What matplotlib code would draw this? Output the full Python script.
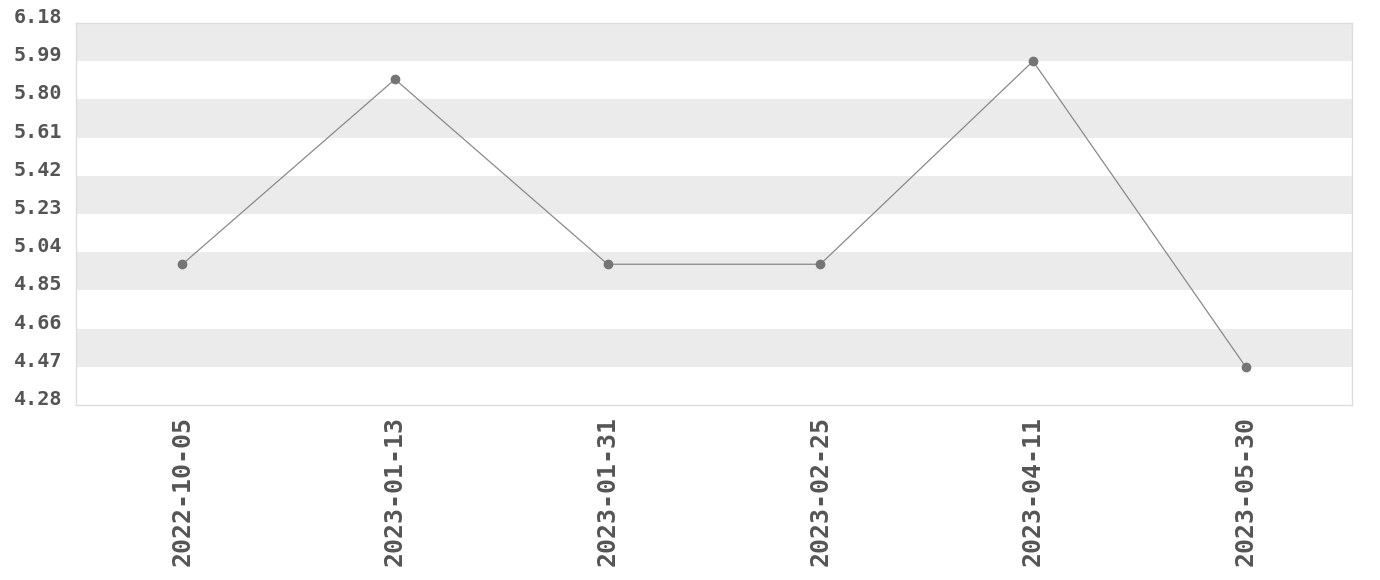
import numpy as np
import matplotlib.pyplot as plt

dates = ['2022-10-05', '2023-01-13', '2023-01-31', '2023-02-25', '2023-04-11', '2023-05-30']
values = [4.98, 5.90, 4.98, 4.98, 5.99, 4.47]
y_ticks = [4.28, 4.47, 4.66, 4.85, 5.04, 5.23, 5.42, 5.61, 5.80, 5.99, 6.18]

plt.rcParams['font.family'] = ['DejaVu Sans Mono']

fig = plt.figure(figsize=(13.8, 5.8), dpi=100)
ax = fig.add_axes([76 / 1380, 1 - 405 / 580, 1276 / 1380, 382 / 580])

# 交替的灰色横条
for i in range(len(y_ticks) - 1):
    if (len(y_ticks) - 2 - i) % 2 == 0:
        ax.axhspan(y_ticks[i], y_ticks[i + 1], color='#ebebeb', lw=0, zorder=0)

x = np.arange(len(dates))
ax.plot(x, values, color='#8a8a8a', lw=0.9, marker='o', markersize=6,
        markerfacecolor='#757575', markeredgecolor='#757575', zorder=3)

ax.set_xlim(-0.5, len(dates) - 0.5)
ax.set_ylim(y_ticks[0], y_ticks[-1])
ax.set_yticks(y_ticks)
ax.set_yticklabels([f'{v:.2f}' for v in y_ticks], fontsize=14.5, fontweight='bold',
                   color='#555555', va='baseline')
ax.set_xticks(x)
ax.set_xticklabels(dates, rotation=90, fontsize=18, fontweight='bold', color='#555555')
ax.tick_params(axis='both', length=0)
ax.tick_params(axis='y', pad=10)
ax.tick_params(axis='x', pad=8)

for s in ax.spines.values():
    s.set_color('#dddddd')
    s.set_linewidth(1)

fig.savefig('out.png', dpi=100)
